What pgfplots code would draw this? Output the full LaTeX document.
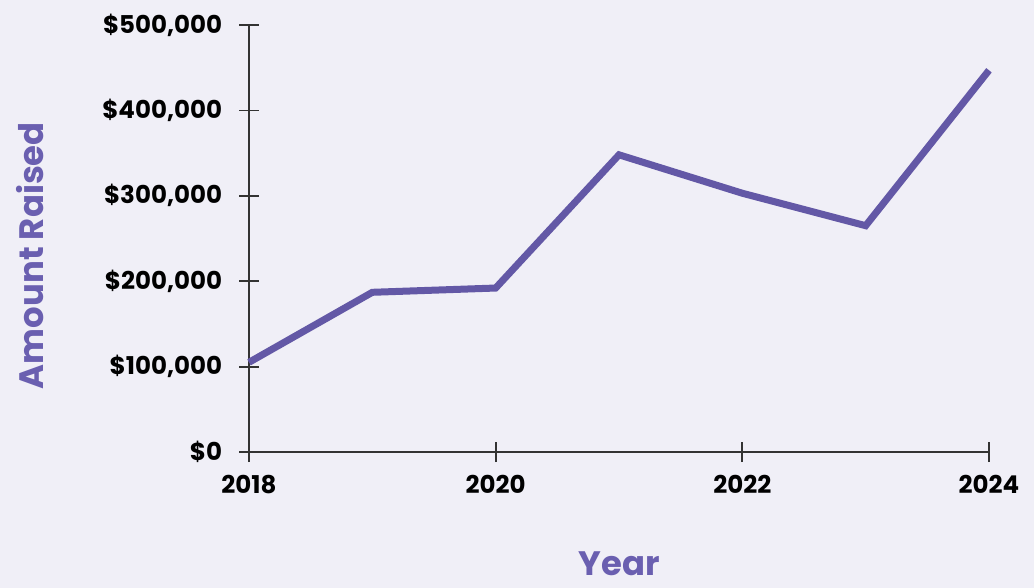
\documentclass[border=0pt]{standalone}
\usepackage{fontspec}
\setmainfont{Poppins}
\usepackage{pgfplots}
\pgfplotsset{compat=1.18}
\definecolor{bg}{HTML}{F0EFF7}
\definecolor{line}{HTML}{6358A6}
\definecolor{lab}{HTML}{6A5FB0}
\definecolor{ax}{HTML}{333333}
\begin{document}
\begin{tikzpicture}
\useasboundingbox (0,0) rectangle (517bp,294bp);
\fill[bg] (0,0) rectangle (517bp,294bp);
\begin{axis}[
  at={(124.5bp,68bp)}, anchor=south west,
  scale only axis, width=370bp, height=213.5bp,
  xmin=2018, xmax=2024, ymin=0, ymax=500000,
  scaled y ticks=false,
  axis x line=bottom, axis y line=left,
  axis line style={ax, line width=0.9bp, -},
  every tick/.style={ax, line width=0.9bp},
  major tick length=10bp, tick align=center,
  xtick={2018,2020,2022,2024},
  xticklabels={2018,2020,2022,2024},
  ytick={0,100000,200000,300000,400000,500000},
  yticklabels={{\$0},{\$100,000},{\$200,000},{\$300,000},{\$400,000},{\$500,000}},
  ticklabel style={font=\fontsize{12.3}{13}\selectfont\bfseries, text=black},
  xticklabel style={yshift=-3bp},
  yticklabel style={xshift=-5bp},
  xlabel={Year}, ylabel={Amount Raised},
  label style={font=\fontsize{17}{18}\selectfont\bfseries, text=lab},
  xlabel style={at={(rel axis cs:0.5,-0.262)}, anchor=center, inner sep=0pt},
  ylabel style={at={(rel axis cs:-0.296,0.46)}, anchor=center, rotate=0},
  clip=false,
]
\addplot[line, line width=3.5bp, line join=miter] coordinates {
  (2018,105000) (2019,187000) (2020,192000) (2021,348000)
  (2022,303000) (2023,265000) (2024,447000)
};
\end{axis}
\end{tikzpicture}
\end{document}
